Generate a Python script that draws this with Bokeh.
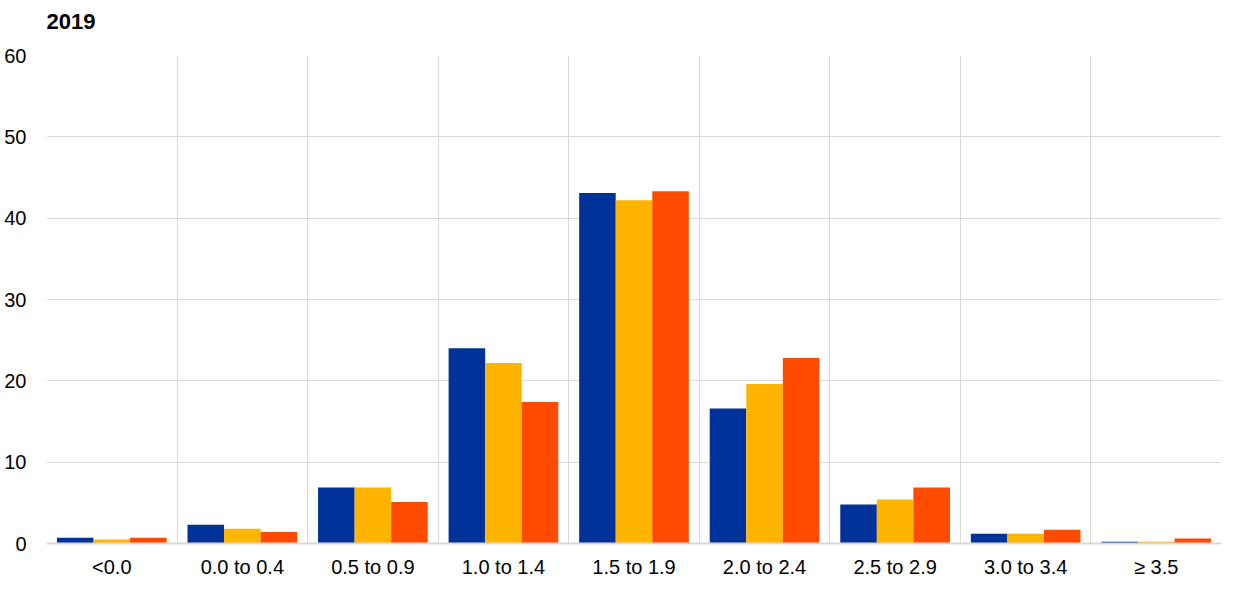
from bokeh.plotting import figure
from bokeh.models import ColumnDataSource, FixedTicker, CustomJSTickFormatter, Range1d
from bokeh.transform import dodge
from bokeh.embed import file_html
from bokeh.resources import INLINE

categories = ["<0.0", "0.0 to 0.4", "0.5 to 0.9", "1.0 to 1.4", "1.5 to 1.9",
              "2.0 to 2.4", "2.5 to 2.9", "3.0 to 3.4", "\u2265 3.5"]
series_a = [0.7, 2.3, 6.9, 24.0, 43.1, 16.6, 4.8, 1.2, 0.2]
series_b = [0.5, 1.8, 6.9, 22.2, 42.2, 19.6, 5.4, 1.2, 0.2]
series_c = [0.7, 1.4, 5.1, 17.4, 43.3, 22.8, 6.9, 1.7, 0.6]
y_ticks = [0, 10, 20, 30, 40, 50, 60]
title_text = "2019"

FONT = "Liberation Sans"
GRID = "#d9d9d9"

src = ColumnDataSource(dict(
    x=[i + 0.5 for i in range(len(categories))],
    a=series_a, b=series_b, c=series_c,
))

p = figure(width=1240, height=589, output_backend="svg", toolbar_location=None,
           x_range=Range1d(0, len(categories)), y_range=Range1d(0, 60),
           min_border_left=46, min_border_right=19, min_border_top=54,
           min_border_bottom=46, title=title_text + "\n ")

bw = 0.28
p.vbar(x=dodge("x", -bw, range=None), top="a", width=bw, source=src,
       color="#003399", line_color=None)
p.vbar(x=dodge("x", 0, range=None), top="b", width=bw, source=src,
       color="#FFB400", line_color=None)
p.vbar(x=dodge("x", bw, range=None), top="c", width=bw, source=src,
       color="#FF4B00", line_color=None)

p.title.text_font = FONT
p.title.text_font_size = "22px"
p.title.text_font_style = "bold"
p.title.text_color = "#000000"
p.title.text_line_height = 0.62
p.title.standoff = 12
p.title.align = "left"
p.title.offset = 0

p.outline_line_color = None

p.xaxis.ticker = FixedTicker(ticks=[i + 0.5 for i in range(len(categories))])
p.xaxis.formatter = CustomJSTickFormatter(args=dict(cats=categories),
                                          code="return cats[Math.floor(tick)];")
p.xaxis.major_tick_line_color = None
p.xaxis.minor_tick_line_color = None
p.xaxis.axis_line_color = GRID
p.xaxis.axis_line_width = 2
p.xaxis.major_label_text_font = FONT
p.xaxis.major_label_text_font_size = "20px"
p.xaxis.major_label_text_color = "#000000"
p.xaxis.major_label_standoff = 6

p.yaxis.ticker = FixedTicker(ticks=y_ticks)
p.yaxis.major_tick_line_color = None
p.yaxis.minor_tick_line_color = None
p.yaxis.axis_line_color = None
p.yaxis.major_label_text_font = FONT
p.yaxis.major_label_text_font_size = "20px"
p.yaxis.major_label_text_color = "#000000"
p.yaxis.major_label_standoff = 14

p.xgrid.ticker = FixedTicker(ticks=list(range(len(categories) + 1)))
p.xgrid.grid_line_color = GRID
p.ygrid.ticker = FixedTicker(ticks=y_ticks)
p.ygrid.grid_line_color = GRID

open("out.html", "w").write(file_html(p, INLINE))
